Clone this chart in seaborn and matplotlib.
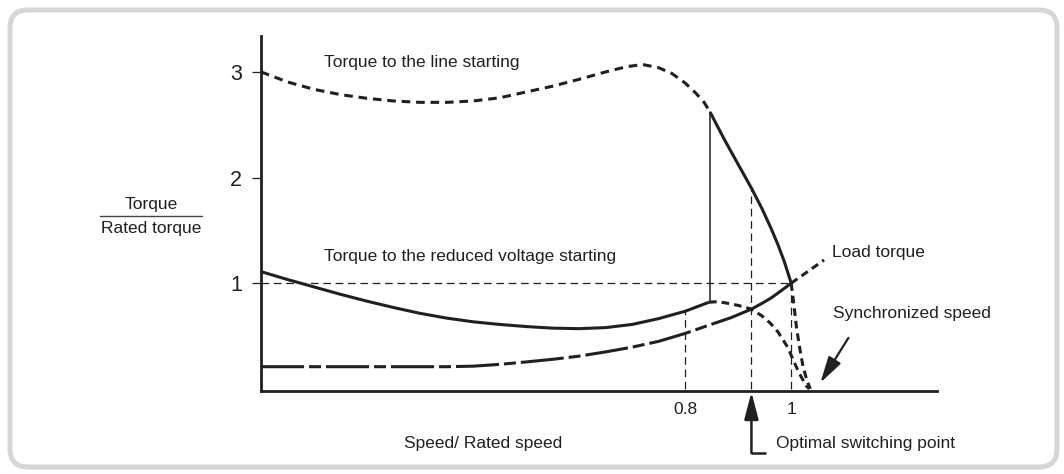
import matplotlib
matplotlib.use("Agg")
import matplotlib.pyplot as plt
import numpy as np
import seaborn as sns
from matplotlib.patches import FancyBboxPatch

# ---- data (speed / rated speed, torque / rated torque) ----
line_speed = [0.0, 0.05, 0.10, 0.15, 0.20, 0.25, 0.30, 0.35, 0.40, 0.45,
              0.50, 0.55, 0.60, 0.65, 0.69, 0.72, 0.75, 0.775, 0.80, 0.82,
              0.836, 0.847, 0.874, 0.90, 0.925, 0.945, 0.962, 0.975, 0.987, 1.0,
              1.005, 1.01, 1.016, 1.022, 1.029, 1.036]
line_torque = [3.0, 2.905, 2.835, 2.785, 2.75, 2.725, 2.712, 2.712, 2.725, 2.755,
               2.81, 2.865, 2.93, 3.0, 3.05, 3.07, 3.04, 2.985, 2.895, 2.80,
               2.71, 2.62, 2.36, 2.125, 1.90, 1.705, 1.52, 1.365, 1.205, 1.0,
               0.80, 0.58, 0.39, 0.22, 0.09, 0.0]

reduced_speed = [0.0, 0.05, 0.10, 0.15, 0.20, 0.25, 0.30, 0.35, 0.40, 0.45,
                 0.50, 0.55, 0.60, 0.65, 0.70, 0.75, 0.80, 0.845, 0.86, 0.875,
                 0.90, 0.925, 0.945, 0.96, 0.975, 0.985, 0.994, 1.004, 1.015, 1.028,
                 1.034]
reduced_torque = [1.11, 1.035, 0.965, 0.895, 0.83, 0.77, 0.715, 0.67, 0.635, 0.61,
                  0.59, 0.575, 0.57, 0.58, 0.61, 0.665, 0.735, 0.82, 0.825, 0.815,
                  0.79, 0.755, 0.69, 0.625, 0.54, 0.46, 0.39, 0.27, 0.15, 0.03,
                  0.0]

load_speed = [0.0, 0.35, 0.40, 0.45, 0.50, 0.55, 0.60, 0.65, 0.70, 0.75,
              0.80, 0.843, 0.887, 0.925, 0.945, 0.962, 0.98, 1.0, 1.062]
load_torque = [0.21, 0.21, 0.215, 0.232, 0.255, 0.28, 0.31, 0.35, 0.395, 0.45,
               0.525, 0.60, 0.675, 0.755, 0.81, 0.86, 0.925, 1.0, 1.22]

change_speed = 0.847      # reduced -> line transition
switch_speed = 0.925      # optimal switching point
rated_speed = 1.0
guide_speeds = [0.8, 0.925, 1.0]
guide_tops = [0.735, 1.90, 1.0]
x_ticks = [0.8, 1.0]
x_tick_labels = ["0.8", "1"]
y_ticks = [1, 2, 3]
y_tick_labels = ["1", "2", "3"]

INK = "#231f20"

sns.set_theme(style="white")
plt.rcParams["font.family"] = ["Liberation Sans", "DejaVu Sans"]
plt.rcParams["lines.scale_dashes"] = False

fig = plt.figure(figsize=(10.64, 4.74), dpi=100)

# rounded frame behind everything, in pixel units
bg = fig.add_axes([0, 0, 1, 1], zorder=0)
bg.set_xlim(0, 1064)
bg.set_ylim(474, 0)
bg.axis("off")
bg.add_patch(FancyBboxPatch((10, 10), 1047, 457,
                            boxstyle="round,pad=0,rounding_size=18",
                            lw=3.6, ec="#d6d6d6", fc="white"))

ax = fig.add_axes([261 / 1064, 1 - 391 / 474, (937 - 261) / 1064, (391 - 36) / 474],
                  zorder=1)
ax.patch.set_alpha(0)


def draw(xs, ys, lo, hi, lw=2.2, dashes=None):
    xs = np.asarray(xs)
    ys = np.asarray(ys)
    m = (xs >= lo) & (xs <= hi)
    sns.lineplot(x=xs[m], y=ys[m], ax=ax, color=INK, linewidth=lw,
                 estimator=None, sort=False)
    ln = ax.lines[-1]
    ln.set_solid_capstyle("butt")
    ln.set_dash_capstyle("butt")
    ln.set_solid_joinstyle("round")
    if dashes:
        ln.set_dashes(dashes)
    ln.set_clip_on(False)


short_dash = [6.2, 4.2]
fine_dash = [5.5, 3.6]

# torque to the line starting
draw(line_speed, line_torque, 0, change_speed, dashes=short_dash)
draw(line_speed, line_torque, change_speed, rated_speed)
draw(line_speed, line_torque, rated_speed, 2, dashes=fine_dash)

# torque to the reduced voltage starting
draw(reduced_speed, reduced_torque, 0, 0.845)
draw(reduced_speed, reduced_torque, 0.845, 2, dashes=fine_dash)

# load torque
draw(load_speed, load_torque, 0, switch_speed, dashes=[31, 3.6, 8.6, 3.6])
draw(load_speed, load_torque, switch_speed, rated_speed)
draw(load_speed, load_torque, rated_speed, 2, dashes=fine_dash)

# thin guide lines
ax.plot([0, rated_speed], [1, 1], color=INK, lw=0.9, dashes=[5.5, 3.4])
for gx, gt in zip(guide_speeds, guide_tops):
    ax.plot([gx, gx], [0, gt], color=INK, lw=0.9, dashes=[5.5, 3.4])
ax.plot([change_speed, change_speed], [0.82, 2.62], color=INK, lw=1.1)

ax.set_xlim(0, 1.275)
ax.set_ylim(-0.02, 3.34)
sns.despine(ax=ax)
for side in ("left", "bottom"):
    ax.spines[side].set_linewidth(2.0)
    ax.spines[side].set_color(INK)

ax.set_yticks(y_ticks)
ax.set_yticklabels(y_tick_labels, fontsize=15.5, color=INK)
ax.set_xticks(x_ticks)
ax.set_xticklabels(x_tick_labels, fontsize=12.5, color=INK)
ax.tick_params(axis="y", left=True, length=6.5, width=0.9, color=INK,
               direction="out", pad=7)
ax.tick_params(axis="x", bottom=False, length=0, pad=8)
ax.set_xlabel("")
ax.set_ylabel("")

txt = dict(fontsize=12.5, color=INK, va="center")
ax.text(0.119, 3.085, "Torque to the line starting", ha="left", **txt)
ax.text(0.119, 1.249, "Torque to the reduced voltage starting", ha="left", **txt)
ax.text(1.077, 1.287, "Load torque", ha="left", clip_on=False, **txt)
ax.text(1.079, 0.718, "Synchronized speed", ha="left", clip_on=False, **txt)
ax.text(0.419, -0.52, "Speed/ Rated speed", ha="center", clip_on=False, **txt)
ax.text(0.972, -0.52, "Optimal switching point", ha="left", clip_on=False, **txt)

# y-axis label written as a fraction
fig.text(151 / 1064, 1 - 205 / 474, "Torque", ha="center", va="center",
         fontsize=12.5, color=INK)
fig.text(151 / 1064, 1 - 229 / 474, "Rated torque", ha="center", va="center",
         fontsize=12.5, color=INK)
bg.plot([100, 202], [216, 216], color="#444444", lw=1.0)

# arrows
ax.annotate("", xy=(1.055, 0.058), xytext=(1.108, 0.483), annotation_clip=False,
            arrowprops=dict(arrowstyle="-|>,head_length=1.6,head_width=0.43",
                            mutation_scale=10, color=INK, lw=1.6,
                            shrinkA=0, shrinkB=0))
ax.annotate("", xy=(switch_speed, -0.03), xytext=(switch_speed, -0.607),
            annotation_clip=False,
            arrowprops=dict(arrowstyle="-|>,head_length=1.65,head_width=0.43",
                            mutation_scale=10, color=INK, lw=1.8,
                            shrinkA=0, shrinkB=0))
ax.plot([switch_speed - 0.0017, 0.953], [-0.607, -0.607], color=INK, lw=1.8,
        clip_on=False, solid_capstyle="butt")

fig.savefig("out.png", dpi=100)
